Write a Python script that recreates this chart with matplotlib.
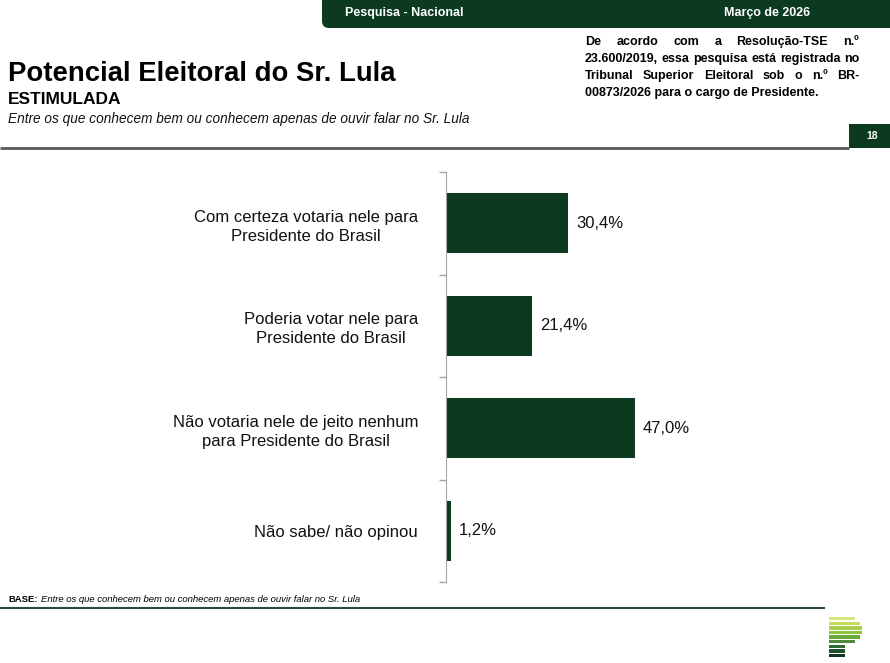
import matplotlib
matplotlib.use("Agg")
import matplotlib.pyplot as plt
from matplotlib.patches import FancyBboxPatch, Rectangle

W, H = 890, 663
DARK = "#0b3a20"
GRAY = "#a6a6a6"

categories = [
    "Com certeza votaria nele para\nPresidente do Brasil",
    "Poderia votar nele para\nPresidente do Brasil",
    "Não votaria nele de jeito nenhum\npara Presidente do Brasil",
    "Não sabe/ não opinou",
]
values = [30.4, 21.4, 47.0, 1.2]
value_labels = ["30,4%", "21,4%", "47,0%", "1,2%"]

note_lines = [
    "De acordo com a Resolução-TSE n.º",
    "23.600/2019, essa pesquisa está registrada no",
    "Tribunal Superior Eleitoral sob o n.º BR-",
    "00873/2026 para o cargo de Presidente.",
]

logo_colors = ["#d8e77c", "#c4dc5c", "#a8cf4b", "#8dc240", "#6ca93b",
               "#4e8a39", "#2f6a31", "#1d4f28", "#0e3620"]
logo_right = [855, 860, 862, 862, 860, 855, 845, 845, 845]

plt.rcParams["font.family"] = ["Liberation Sans", "DejaVu Sans"]

fig = plt.figure(figsize=(W / 100, H / 100), dpi=100, facecolor="white")

# page decoration drawn in pixel coordinates
bg = fig.add_axes([0, 0, 1, 1], zorder=0)
bg.set_xlim(0, W)
bg.set_ylim(H, 0)
bg.axis("off")

# header band with rounded bottom-left corner
bg.add_patch(FancyBboxPatch((322, -20), W - 322 + 20, 48,
                            boxstyle="round,pad=0,rounding_size=7",
                            facecolor=DARK, edgecolor="none"))
bg.text(345, 13, "Pesquisa - Nacional", color="white", fontsize=9,
        fontweight="bold", va="center", ha="left")
bg.text(724, 13, "Março de 2026", color="white", fontsize=9,
        fontweight="bold", va="center", ha="left")

# titles
bg.text(8, 74, "Potencial Eleitoral do Sr. Lula", fontsize=19.8,
        fontweight="bold", va="center", ha="left", color="black")
bg.text(8, 100, "ESTIMULADA", fontsize=12.5, fontweight="bold",
        va="center", ha="left", color="black")
bg.text(8, 119, "Entre os que conhecem bem ou conhecem apenas de ouvir falar no Sr. Lula",
        fontsize=9.8, style="italic", va="center", ha="left", color="#111111")

# justified note on the right
renderer = fig.canvas.get_renderer()
x0, x1 = 585, 859
for i, line in enumerate(note_lines):
    y = 42 + i * 17
    words = line.split(" ")
    if i == len(note_lines) - 1:
        bg.text(x0, y, line, fontsize=9, fontweight="bold", va="center", ha="left")
        continue
    texts = [bg.text(0, y, w, fontsize=9, fontweight="bold", va="center", ha="left")
             for w in words]
    widths = [t.get_window_extent(renderer).width for t in texts]
    gap = (x1 - x0 - sum(widths)) / (len(words) - 1)
    xpos = x0
    for t, wd in zip(texts, widths):
        t.set_x(xpos)
        xpos += wd + gap

# page number box and separator
bg.add_patch(Rectangle((849, 124), W - 849, 24, facecolor=DARK, edgecolor="none"))
bg.text(872, 136, "18", color="white", fontsize=7.5, fontweight="bold",
        va="center", ha="center")
bg.plot([0, 849], [148, 148], color="#5a5a5a", lw=2, solid_capstyle="butt")

# footer
bg.text(8, 599, "BASE:", fontsize=6.8, fontweight="bold", va="center", ha="left")
bg.text(41, 599, "Entre os que conhecem bem ou conhecem apenas de ouvir falar no Sr. Lula",
        fontsize=6.8, style="italic", va="center", ha="left")
bg.plot([0, 825], [608, 608], color="#2e4a3a", lw=1.5, solid_capstyle="butt")

# logo
for i, (c, r) in enumerate(zip(logo_colors, logo_right)):
    top = 617 + i * 4.6
    bg.add_patch(Rectangle((829, top), r - 829, 3.4, facecolor=c, edgecolor="none"))

# chart
ax = fig.add_axes([446 / W, 1 - 582 / H, (800 - 446) / W, (582 - 172) / H], zorder=1)
ax.patch.set_alpha(0)
ypos = list(range(len(categories)))
ax.barh(ypos, values, height=0.585, color=DARK)
ax.set_ylim(len(categories) - 0.5, -0.5)
ax.set_xlim(0, 88)
for yv, v, lab in zip(ypos, values, value_labels):
    ax.annotate(lab, (v, yv), xytext=(5.5, 0), textcoords="offset points",
                va="center", ha="left", fontsize=12, color="#111111")
ax.set_yticks(ypos)
ax.set_yticklabels(categories, fontsize=12, multialignment="center",
                   linespacing=1.35, color="#111111")
ax.tick_params(axis="y", which="major", length=0, pad=20)
ax.set_yticks([i - 0.5 for i in range(len(categories) + 1)], minor=True)
ax.tick_params(axis="y", which="minor", length=5, color=GRAY, width=1)
ax.set_xticks([])
for s in ["top", "right", "bottom"]:
    ax.spines[s].set_visible(False)
ax.spines["left"].set_color(GRAY)

fig.savefig("out.png", dpi=100, facecolor="white")
